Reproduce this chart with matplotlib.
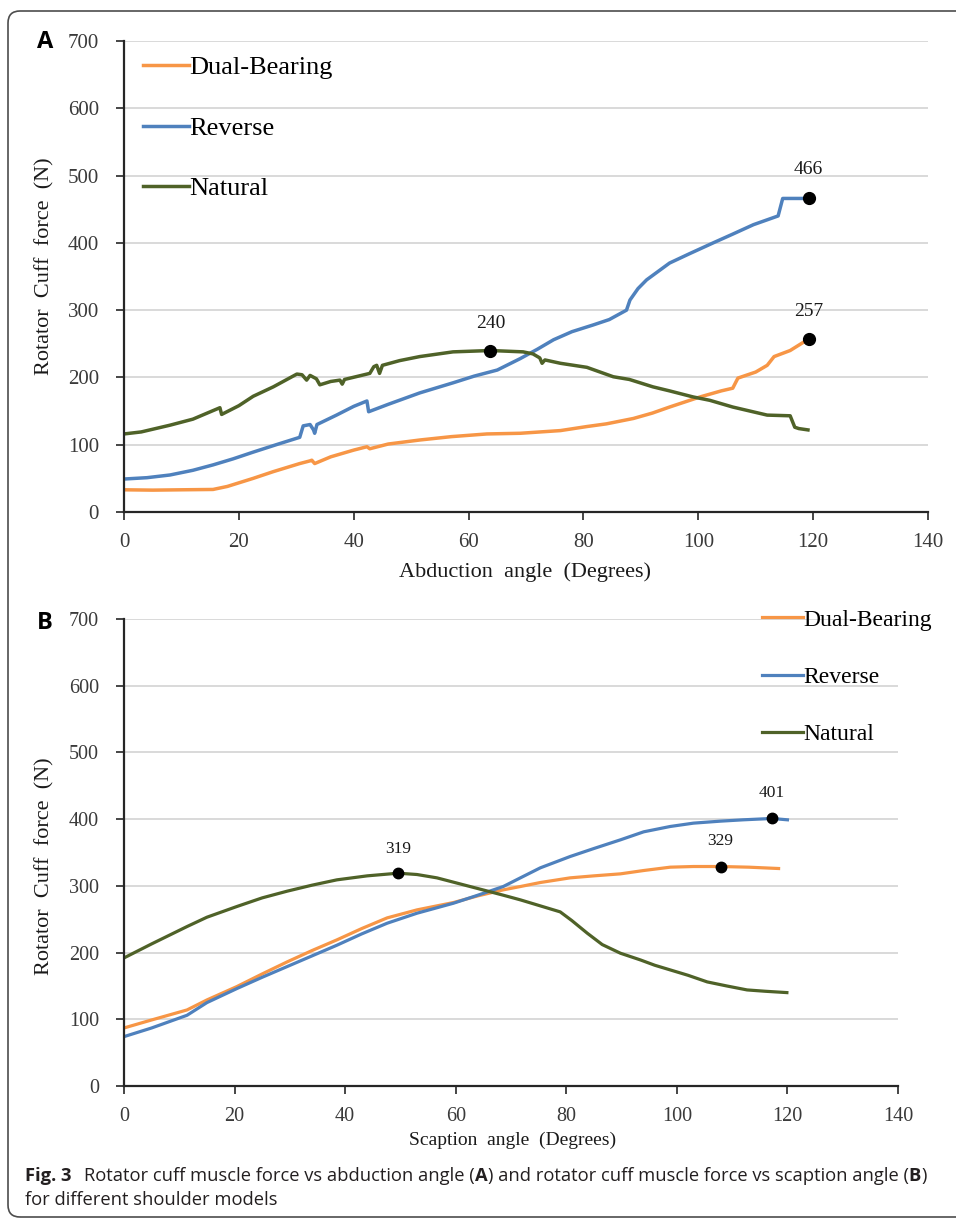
import matplotlib
matplotlib.use("Agg")
import matplotlib.pyplot as plt
from matplotlib.patches import FancyBboxPatch
from matplotlib.transforms import IdentityTransform

# ---------------- data: panel A (abduction) ----------------
dual_x_a = [0, 5, 10, 15.5, 18, 22.5, 26, 30.6, 32.4, 32.7, 33.2, 36, 40, 42.3, 42.8,
            46, 51.5, 57, 63.2, 69, 72.5, 76, 80.6, 84, 88.7, 92, 95, 100.3, 104, 106,
            106.9, 110, 112, 113.2, 116, 119.2]
dual_y_a = [33, 32.5, 33, 33.5, 38, 50, 60, 72, 76, 77, 72, 82, 92, 97, 94,
            101, 107, 112, 116, 117, 119, 121, 127, 131, 139, 147, 156, 171, 180, 184,
            199, 208, 218, 231, 240, 257]

rev_x_a = [0, 4, 8, 12, 15.5, 19, 22.5, 26.5, 30.6, 31.2, 32.4, 33.0, 33.2, 33.6, 37,
           40, 42.3, 42.6, 46, 51.5, 57.3, 61, 65, 69, 72, 74.8, 78, 81.7, 84.5, 87.5,
           88.1, 89.5, 91, 95, 98.5, 102.6, 106, 109.6, 113.9, 114.7, 119.2]
rev_y_a = [49, 51, 55, 62, 70, 79, 89, 100, 111, 128, 130, 122, 117, 130, 144,
           157, 165, 149, 160, 177, 192, 202, 211, 228, 242, 256, 268, 278, 286, 300,
           315, 332, 345, 370, 384, 400, 413, 427, 440, 466, 466]

nat_x_a = [0, 3, 8, 12, 16.7, 17.0, 20, 22.5, 26, 30.1, 31.0, 31.8, 32.4, 33.5, 34.1,
           36, 37.6, 38.0, 38.4, 42.8, 43.5, 44.0, 44.5, 45, 48, 51.5, 57.3, 63.8, 69.5,
           71.2, 72.4, 72.8, 73.3, 76, 80.6, 85.2, 88, 92.1, 95, 99.1, 102, 106, 109,
           112, 116, 116.8, 117.5, 119.1]
nat_y_a = [116, 119, 129, 138, 155, 145, 158, 172, 186, 205, 204, 196, 203, 198, 189,
           194, 196, 190, 197, 206, 216, 218, 206, 218, 225, 231, 238, 240, 238,
           235, 229, 221, 226, 221, 215, 201, 197, 186, 180, 171, 166, 156, 150,
           144, 143, 126, 124, 122]

# ---------------- data: panel B (scaption) ----------------
dual_x_b = [0, 5, 11.4, 15, 20.4, 25, 29.5, 34, 38.5, 43, 47.6, 53, 59.6, 64, 68.6,
            71.7, 75.3, 80.7, 85, 89.8, 94, 98.8, 103, 107.9, 113, 118.4]
dual_y_b = [87, 99, 114, 129, 149, 168, 186, 203, 219, 236, 252, 264, 275, 285, 294,
            299, 305, 312, 315, 318, 323, 328, 329, 329, 328, 326]

rev_x_b = [0, 5, 11.4, 15, 20.4, 25, 29.5, 34, 38.5, 43, 47.6, 53, 59.6, 64, 68.6,
           71.7, 75.3, 80.7, 85, 89.8, 94, 98.8, 103, 107.9, 112, 117.2, 120]
rev_y_b = [74, 87, 106, 125, 146, 163, 179, 195, 211, 228, 244, 259, 274, 286, 299,
           312, 327, 344, 356, 369, 381, 389, 394, 397, 399, 401, 399]

nat_x_b = [0, 5, 11.4, 15, 20.4, 25, 29.5, 34, 38.5, 44, 49.6, 53, 56.6, 62.6, 68.6,
           71.7, 75.3, 78.9, 81, 83.8, 86.5, 89.8, 93.4, 96, 98.8, 102, 105.5, 109,
           112.7, 116, 119.9]
nat_y_b = [192, 213, 239, 253, 269, 282, 292, 301, 309, 315, 319, 317, 312, 299, 286,
           279, 270, 261, 248, 229, 212, 199, 189, 181, 174, 166, 156, 150,
           144, 142, 140]

# peak markers (x, value)
peaks_a = [(63.8, 240), (119.2, 466), (119.2, 257)]
peaks_b = [(49.6, 319), (107.9, 329), (117.2, 401)]

series_names = ["Dual-Bearing", "Reverse", "Natural"]
colors = ["#F79646", "#4F81BD", "#4F6228"]

x_ticks = [0, 20, 40, 60, 80, 100, 120, 140]
y_ticks = [0, 100, 200, 300, 400, 500, 600, 700]

W, H = 956, 1219
SERIF = ["Liberation Serif", "DejaVu Serif"]
SANS = ["Open Sans", "DejaVu Sans"]

fig = plt.figure(figsize=(W / 100, H / 100), dpi=100)


def px_axes(left, top, right, bottom):
    return fig.add_axes([left / W, 1 - bottom / H, (right - left) / W, (bottom - top) / H])


def style_axes(ax, tick_size):
    ax.set_xlim(0, 140)
    ax.set_ylim(0, 700)
    ax.set_xticks(x_ticks)
    ax.set_yticks(y_ticks)
    for s in ("top", "right"):
        ax.spines[s].set_visible(False)
    for s in ("left", "bottom"):
        ax.spines[s].set_color("#262626")
        ax.spines[s].set_linewidth(1.6)
    ax.yaxis.grid(True, color="#d9d9d9", linewidth=1.4)
    ax.set_axisbelow(True)
    ax.tick_params(axis="both", direction="out", length=6, width=1.2, color="#262626",
                   labelsize=tick_size, labelcolor="#3a3a3a")
    ax.tick_params(axis="y", pad=12)
    ax.tick_params(axis="x", pad=9)
    for lab in ax.get_xticklabels() + ax.get_yticklabels():
        lab.set_family(SERIF)


# ---------------- panel A ----------------
axA = px_axes(124, 41, 928, 512)
style_axes(axA, 15)
linesA = []
for xs, ys, c, n in zip([dual_x_a, rev_x_a, nat_x_a], [dual_y_a, rev_y_a, nat_y_a],
                        colors, series_names):
    ln, = axA.plot(xs, ys, color=c, lw=2.5, label=n, solid_joinstyle="round")
    linesA.append(ln)
for (px_, v), off in zip(peaks_a, [27, 29, 28]):
    axA.plot(px_, v, "o", color="black", ms=8.5, zorder=5)
    axA.annotate(str(v), (px_, v), xytext=(0, off * 0.72), textcoords="offset points",
                 ha="center", va="center", fontsize=14, family=SERIF, color="#1a1a1a")

fig.legend(handles=linesA, loc="upper left", bbox_to_anchor=(143 / W, 1 - 56 / H),
           frameon=False, prop={"family": SERIF, "size": 19},
           handlelength=1.75, handletextpad=0.0, labelspacing=1.4,
           borderpad=0, borderaxespad=0)

fig.text(525 / W, 1 - 572 / H, "Abduction  angle  (Degrees)", ha="center", va="center",
         fontsize=16, family=SERIF, color="#1a1a1a")
fig.text(45 / W, 1 - 266 / H, "Rotator  Cuff  force  (N)", ha="center", va="center",
         rotation=90, fontsize=16, family=SERIF, color="#1a1a1a")
fig.text(37 / W, 1 - 48 / H, "A", ha="left", va="baseline", fontsize=17,
         fontweight="bold", family=SANS, color="black")

# ---------------- panel B ----------------
axB = px_axes(124, 619, 898, 1086)
style_axes(axB, 14.5)
linesB = []
for xs, ys, c, n in zip([dual_x_b, rev_x_b, nat_x_b], [dual_y_b, rev_y_b, nat_y_b],
                        colors, series_names):
    ln, = axB.plot(xs, ys, color=c, lw=2.3, label=n, solid_joinstyle="round")
    linesB.append(ln)
for (px_, v), off in zip(peaks_b, [24, 26, 25]):
    axB.plot(px_, v, "o", color="black", ms=7.5, zorder=5)
    axB.annotate(str(v), (px_, v), xytext=(0, off * 0.72), textcoords="offset points",
                 ha="center", va="center", fontsize=12.5, family=SERIF, color="#1a1a1a")

fig.legend(handles=linesB, loc="upper left", bbox_to_anchor=(762 / W, 1 - 609 / H),
           frameon=False, prop={"family": SERIF, "size": 17},
           handlelength=1.75, handletextpad=0.0, labelspacing=1.52,
           borderpad=0, borderaxespad=0)

fig.text(513 / W, 1 - 1140 / H, "Scaption  angle  (Degrees)", ha="center", va="center",
         fontsize=14, family=SERIF, color="#1a1a1a")
fig.text(45 / W, 1 - 866 / H, "Rotator  Cuff  force  (N)", ha="center", va="center",
         rotation=90, fontsize=16, family=SERIF, color="#1a1a1a")
fig.text(37 / W, 1 - 629 / H, "B", ha="left", va="baseline", fontsize=17,
         fontweight="bold", family=SANS, color="black")

# ---------------- caption ----------------
renderer = fig.canvas.get_renderer()
line1 = [("Fig. 3", "bold", 0),
         ("Rotator cuff muscle force vs abduction angle (", "normal", 13),
         ("A", "bold", 0),
         (") and rotator cuff muscle force vs scaption angle (", "normal", 0),
         ("B", "bold", 0),
         (")", "normal", 0)]


def draw_rich(pieces, x0, y0, size, measure_only=False):
    x = x0
    made = []
    for txt, wt, gap in pieces:
        x += gap
        t = fig.text(x, y0, txt, fontsize=size, fontweight=wt, family=SANS,
                     color="#231f20", ha="left", va="baseline", transform=IdentityTransform())
        x = t.get_window_extent(renderer).x1
        made.append(t)
    if measure_only:
        for t in made:
            t.remove()
    return x


test_size = 13.0
end = draw_rich(line1, 25, H - 1181, test_size, measure_only=True)
cap_size = test_size * (925 - 25) / (end - 25)
draw_rich(line1, 25, H - 1181, cap_size)
draw_rich([("for different shoulder models", "normal", 0)], 25, H - 1205, cap_size)

# outer frame
frame = FancyBboxPatch((8, 2), 1000, H - 11 - 2, boxstyle="round,pad=0,rounding_size=12",
                       transform=IdentityTransform(), facecolor="none",
                       edgecolor="#4d4d4d", linewidth=1.2)
fig.add_artist(frame)

fig.savefig("out.png", dpi=100)
